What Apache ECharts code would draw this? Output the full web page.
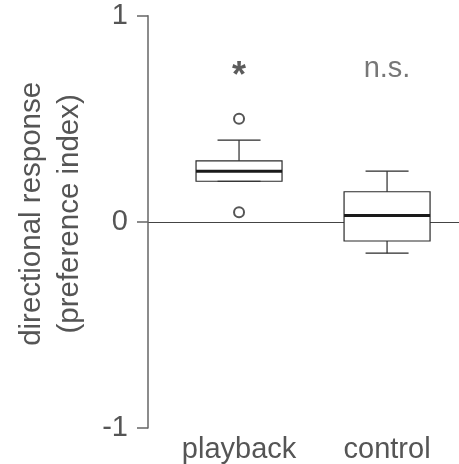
<!DOCTYPE html>
<html><head><meta charset="utf-8">
<script src="https://cdn.jsdelivr.net/npm/echarts@6/dist/echarts.min.js"></script>
<style>html,body{margin:0;padding:0;background:#fff}#c{width:459px;height:464px}</style>
</head><body><div id="c"></div>
<script>
const categories = ['playback', 'control'];
const catX = [1, 2];
const whiskerLow = [0.197, -0.152];
const q1 = [0.197, -0.093];
const median = [0.246, 0.031];
const q3 = [0.296, 0.146];
const whiskerHigh = [0.396, 0.246];
const outlierCat = [0, 0];
const outlierVal = [0.50, 0.047];
const annotText = ['*', 'n.s.'];
const annotY = [0.74, 0.74];
const yTicks = [-1, 0, 1];

const FONT = 'Liberation Sans';
const TXT = '#555555';
const INK = '#2a2a2a';

const boxData = categories.map((c, i) => [catX[i], whiskerLow[i], q1[i], median[i], q3[i], whiskerHigh[i]]);
const outData = outlierVal.map((v, i) => [catX[outlierCat[i]], v]);
const annData = annotText.map((t, i) => ({
  value: [catX[i], annotY[i]],
  text: t,
  label: t === '*'
    ? { fontSize: 36, fontWeight: 'bold', color: '#333', offset: [0, 8] }
    : { fontSize: 29, offset: [0, 0] }
}));

const chart = echarts.init(document.getElementById('c'), null, { renderer: 'canvas' });
chart.setOption({
  animation: false,
  backgroundColor: '#fff',
  grid: { left: 148, right: 0, top: 15.7, bottom: 34.7, containLabel: false },
  xAxis: {
    type: 'value', min: 0.385, max: 2.486,
    axisLine: { show: false, onZero: false },
    axisTick: { show: false },
    splitLine: { show: false },
    axisLabel: {
      customValues: catX,
      formatter: v => categories[catX.indexOf(v)],
      fontFamily: FONT, fontSize: 29, color: TXT, margin: 7
    }
  },
  yAxis: {
    type: 'value', min: yTicks[0], max: yTicks[yTicks.length - 1], interval: 1,
    name: 'directional response\n(preference index)',
    nameLocation: 'middle', nameGap: 59, nameRotate: 90,
    nameTextStyle: { fontFamily: FONT, fontSize: 29.5, color: TXT, lineHeight: 38, padding: [0, 0, 0, 16] },
    axisLine: { show: true, lineStyle: { color: '#666', width: 1.5 } },
    axisTick: { show: true, length: 11, lineStyle: { color: '#666', width: 1.5 } },
    axisLabel: { fontFamily: FONT, fontSize: 29, color: TXT, margin: 20, formatter: v => String(v) },
    splitLine: { show: true, lineStyle: { color: ['rgba(0,0,0,0)', '#444', 'rgba(0,0,0,0)'], width: 1 } }
  },
  series: [
    {
      type: 'custom',
      data: boxData,
      renderItem: (params, api) => {
        const x = api.value(0);
        const pt = k => api.coord([x, api.value(k)]);
        const lo = pt(1), b1 = pt(2), md = pt(3), b3 = pt(4), hi = pt(5);
        const cx = lo[0], hw = 43, cw = 21.5;
        const st = { stroke: INK, lineWidth: 1.2, fill: null };
        return {
          type: 'group',
          children: [
            { type: 'rect', shape: { x: cx - hw, y: b3[1], width: 2 * hw, height: b1[1] - b3[1] }, style: { stroke: INK, lineWidth: 1.2, fill: '#fff' } },
            { type: 'line', shape: { x1: cx, y1: b3[1], x2: cx, y2: hi[1] }, style: st },
            { type: 'line', shape: { x1: cx - cw, y1: hi[1], x2: cx + cw, y2: hi[1] }, style: st },
            { type: 'line', shape: { x1: cx, y1: b1[1], x2: cx, y2: lo[1] }, style: st },
            { type: 'line', shape: { x1: cx - cw, y1: lo[1], x2: cx + cw, y2: lo[1] }, style: st },
            { type: 'line', shape: { x1: cx - hw, y1: md[1], x2: cx + hw, y2: md[1] }, style: { stroke: '#1a1a1a', lineWidth: 3 } }
          ]
        };
      }
    },
    {
      type: 'scatter',
      data: outData,
      symbol: 'emptyCircle',
      symbolSize: 10,
      itemStyle: { color: INK, borderColor: INK, borderWidth: 1.3 }
    },
    {
      type: 'scatter',
      data: annData,
      symbolSize: 0,
      label: {
        show: true, position: 'inside',
        formatter: p => p.data.text,
        fontFamily: FONT, fontSize: 29, color: TXT
      }
    }
  ]
});
</script></body></html>
